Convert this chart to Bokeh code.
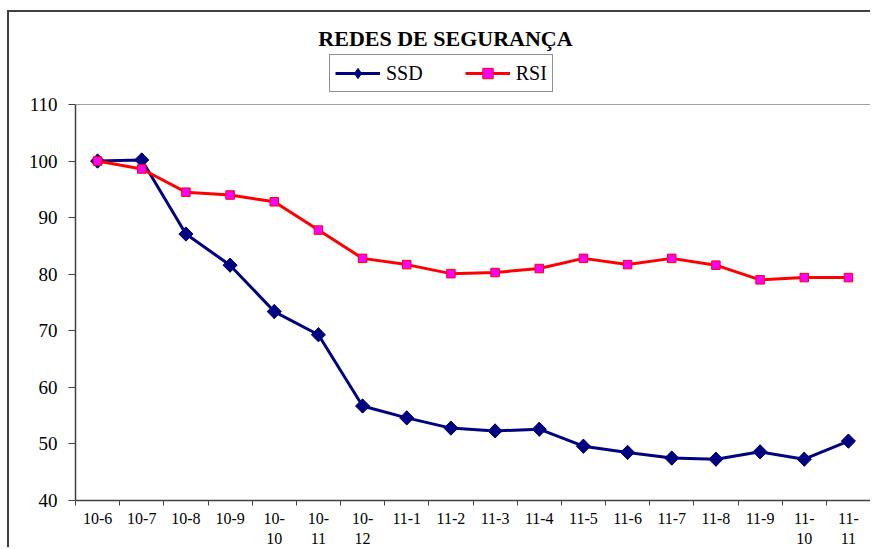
from bokeh.plotting import figure
from bokeh.models import (FixedTicker, Legend, LegendItem, Range1d, Span,
                          LinearAxis, Label)
from bokeh.embed import file_html
from bokeh.resources import INLINE

months = ["10-6", "10-7", "10-8", "10-9", "10-10", "10-11", "10-12",
          "11-1", "11-2", "11-3", "11-4", "11-5", "11-6", "11-7", "11-8",
          "11-9", "11-10", "11-11"]
month_labels = ["10-6", "10-7", "10-8", "10-9", "10-\n10", "10-\n11", "10-\n12",
                "11-1", "11-2", "11-3", "11-4", "11-5", "11-6", "11-7", "11-8",
                "11-9", "11-\n10", "11-\n11"]
ssd = [100.0, 100.2, 87.1, 81.6, 73.4, 69.3, 56.7, 54.6, 52.8, 52.3, 52.6,
       49.6, 48.5, 47.5, 47.3, 48.6, 47.3, 50.5]
rsi = [100.0, 98.6, 94.5, 94.0, 92.8, 87.8, 82.8, 81.7, 80.1, 80.3, 81.0,
       82.8, 81.7, 82.8, 81.6, 79.0, 79.4, 79.4]
y_ticks = [40, 50, 60, 70, 80, 90, 100, 110]
y_min, y_max = 40, 110
title_text = "REDES DE SEGURANÇA"

FONT = "'Liberation Serif', 'Times New Roman', serif"
x = list(range(len(months)))

# layout (pixels)
W, H = 863, 537
frame_left, frame_right_pad, frame_bottom_pad = 66, 2, 49
plot_h = 396                      # pixel height of the 40..110 band
frame_h = H - frame_bottom_pad    # frame spans full height above the x axis
y_top = y_min + (y_max - y_min) * frame_h / plot_h

p = figure(width=W, height=H, output_backend="svg", toolbar_location=None,
           x_range=Range1d(-0.5, len(months) - 0.5), y_range=Range1d(y_min, y_top),
           min_border_left=frame_left, min_border_right=frame_right_pad,
           min_border_top=0, min_border_bottom=frame_bottom_pad)
p.styles = {"margin-left": "7px", "margin-top": "10px",
            "border-left": "2px solid #404040", "border-top": "2px solid #404040"}
p.background_fill_color = "white"
p.border_fill_color = "white"
p.outline_line_color = None
p.xgrid.visible = False
p.ygrid.visible = False

# y axis
ya = p.yaxis[0]
ya.ticker = FixedTicker(ticks=y_ticks)
ya.bounds = (y_min, y_max)
ya.axis_line_color = "#404040"
ya.axis_line_width = 1.5
ya.major_tick_line_color = "#404040"
ya.major_tick_out = 7
ya.major_tick_in = 0
ya.minor_tick_line_color = None
ya.major_label_standoff = 11
ya.major_label_text_font = FONT
ya.major_label_text_font_size = "19px"
ya.major_label_text_color = "black"

# right border of plot area
ra = LinearAxis(ticker=FixedTicker(ticks=[]), bounds=(y_min, y_max),
                axis_line_color="#a0a0a0", axis_line_width=1,
                major_tick_out=0, major_tick_in=0, minor_tick_out=0,
                minor_tick_in=0, major_label_standoff=0,
                major_label_text_font_size="0px")
p.add_layout(ra, "right")
# top border of plot area
p.add_layout(Span(location=y_max, dimension="width", line_color="#a0a0a0",
                  line_width=1))

# x axis
xa = p.xaxis[0]
xa.ticker = FixedTicker(ticks=x, minor_ticks=[i - 0.5 for i in range(len(months) + 1)])
xa.major_label_overrides = {i: lab for i, lab in enumerate(month_labels)}
xa.axis_line_color = "#404040"
xa.axis_line_width = 1.5
xa.major_tick_line_color = None
xa.major_tick_out = 0
xa.major_tick_in = 0
xa.minor_tick_line_color = "#404040"
xa.minor_tick_out = 5
xa.minor_tick_in = 0
xa.major_label_standoff = 4
xa.major_label_text_font = FONT
xa.major_label_text_font_size = "16px"
xa.major_label_text_color = "black"

# SSD: diamond underlay (legend glyph), rotated squares on top
l1 = p.line(x, ssd, line_color="#000080", line_width=3)
d1 = p.scatter(x, ssd, marker="diamond", size=14,
               fill_color="#000080", line_color="#000080")
m1 = p.scatter(x, ssd, marker="square", size=10, angle=0.785398,
               fill_color="#000080", line_color="#000080")
l2 = p.line(x, rsi, line_color="#ff0000", line_width=3)
m2 = p.scatter(x, rsi, marker="square", size=8.5,
               fill_color="#ff00ff", line_color="#ff0000", line_width=1)

legend = Legend(items=[LegendItem(label="SSD", renderers=[l1, d1]),
                       LegendItem(label="RSI", renderers=[l2, m2])],
                orientation="horizontal", location=(254, 408),
                glyph_width=45, glyph_height=26, label_standoff=6, spacing=42,
                padding=5, margin=0,
                label_text_font=FONT, label_text_font_size="20px",
                label_text_color="black",
                border_line_color="#202020", border_line_width=1,
                background_fill_color="white")
p.add_layout(legend, "center")

# chart title (centred over the plot area at page x ~ 445)
title_x = -0.5 + (445 - 75) * len(months) / 795
title_y = y_max + (104 - 38) * (y_max - y_min) / plot_h
p.add_layout(Label(x=title_x, y=title_y, text=title_text, text_font=FONT,
                   text_font_size="22px", text_font_style="bold",
                   text_align="center", text_baseline="middle",
                   text_color="black"))

open("out.html", "w").write(file_html(p, INLINE))
